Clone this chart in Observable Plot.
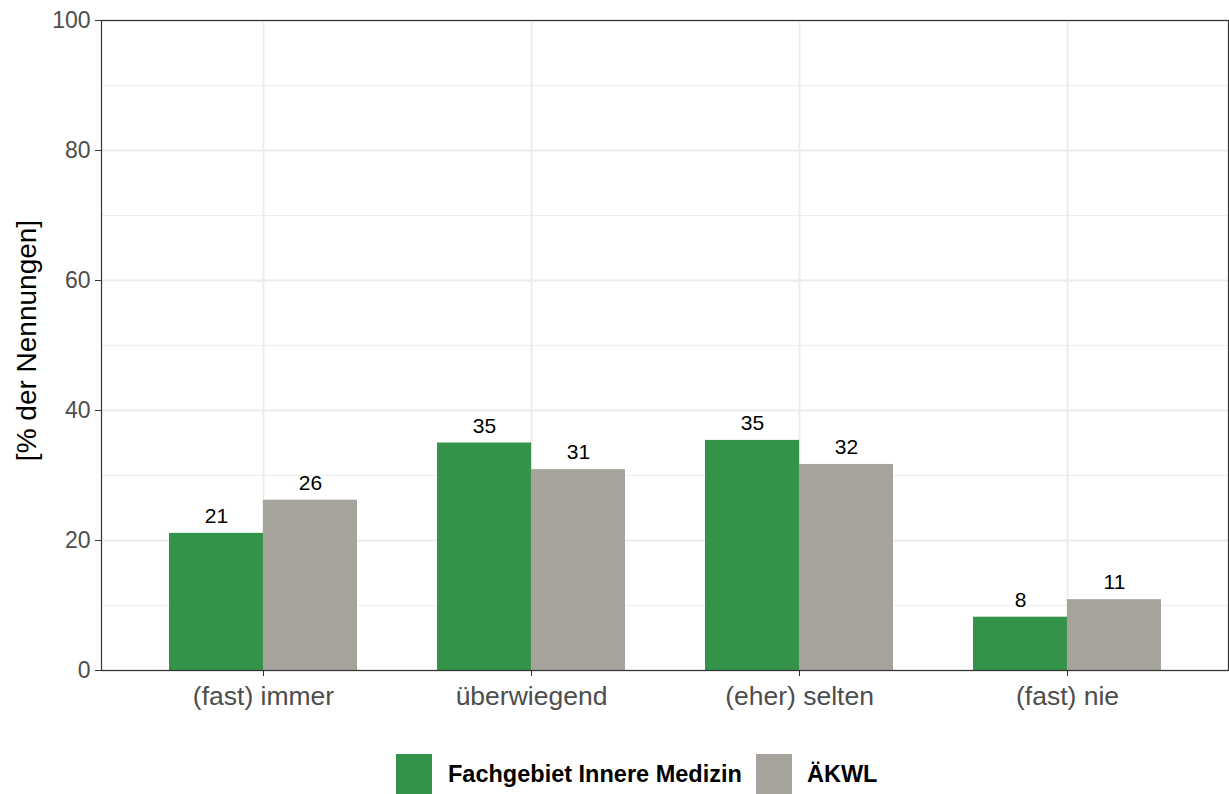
<!DOCTYPE html>
<html>
<head>
<meta charset="utf-8">
<script src="https://cdn.jsdelivr.net/npm/d3@7"></script>
<script src="https://cdn.jsdelivr.net/npm/@observablehq/plot@0.6"></script>
<style>
  body { margin: 0; background: #fff; font-family: "Liberation Sans", Arial, sans-serif; }
  #chart svg { display: block; }
  #chart [aria-label="y-axis tick"], #chart [aria-label="x-axis tick"] { stroke: #333333; }
  #legend { position: relative; height: 74px; }
  .key { position: absolute; top: 34px; width: 36px; height: 40px; }
  .lab { position: absolute; top: 41px; font-weight: bold; font-size: 23.5px; color: #000; line-height: 26px; white-space: nowrap; }
</style>
</head>
<body>
<div id="chart"></div>
<div id="legend"></div>
<script>
const categories = ["(fast) immer", "überwiegend", "(eher) selten", "(fast) nie"];
const groups = ["Fachgebiet Innere Medizin", "ÄKWL"];
const innereMedizin = [21.1, 35.0, 35.4, 8.2];
const aekwl = [26.2, 30.9, 31.7, 10.9];
const colors = ["#339348", "#a6a39c"];
const yTicks = [0, 20, 40, 60, 80, 100];
const yMinor = [10, 30, 50, 70, 90];

const data = [];
categories.forEach((c, i) => {
  data.push({cat: c, group: groups[0], value: innereMedizin[i]});
  data.push({cat: c, group: groups[1], value: aekwl[i]});
});

const W = 1229, H = 720, ML = 101, MR = 1, MT = 20, MB = 50;
const padIn = 0.3, padOut = 0.25;
const step = (W - ML - MR) / (categories.length - padIn + 2 * padOut);
const half = step * (1 - padIn) / 2;

const chart = Plot.plot({
  width: W, height: H,
  marginLeft: ML, marginRight: MR, marginTop: MT, marginBottom: MB,
  style: {fontFamily: '"Liberation Sans", Arial, sans-serif', background: "#fff"},
  x: {domain: categories, paddingInner: padIn, paddingOuter: padOut, label: null},
  y: {domain: [0, 100], label: null},
  color: {domain: groups, range: colors},
  marks: [
    Plot.ruleY(yMinor, {stroke: "#ebebeb", strokeWidth: 0.9}),
    Plot.ruleY(yTicks, {stroke: "#ebebeb", strokeWidth: 1.8}),
    Plot.ruleX(categories, {stroke: "#ebebeb", strokeWidth: 1.8}),
    Plot.barY(data.filter(d => d.group === groups[0]), {x: "cat", y: "value", fill: "group", insetRight: half}),
    Plot.barY(data.filter(d => d.group === groups[1]), {x: "cat", y: "value", fill: "group", insetLeft: half}),
    Plot.text(data.filter(d => d.group === groups[0]), {x: "cat", y: "value", text: d => String(Math.round(d.value)), dx: -half / 2, dy: -17, fontSize: 21, fill: "#000"}),
    Plot.text(data.filter(d => d.group === groups[1]), {x: "cat", y: "value", text: d => String(Math.round(d.value)), dx: half / 2, dy: -17, fontSize: 21, fill: "#000"}),
    Plot.frame({stroke: "#333333", strokeWidth: 1.2}),
    Plot.axisY({ticks: yTicks, tickSize: 6, tickPadding: 5, fontSize: 23, color: "#4d4d4d", label: null}),
    Plot.axisX({tickSize: 6, tickPadding: 10, fontSize: 26.5, color: "#4d4d4d", label: null}),
    Plot.text(["[% der Nennungen]"], {frameAnchor: "left", textAnchor: "middle", rotate: -90, dx: -74, dy: -5, fontSize: 28, fill: "#000"})
  ]
});
document.getElementById("chart").appendChild(chart);

const legend = document.getElementById("legend");
const keyX = [396, 756];
const labX = [448, 807];
groups.forEach((g, i) => {
  const k = document.createElement("div");
  k.className = "key"; k.style.left = keyX[i] + "px"; k.style.background = colors[i];
  legend.appendChild(k);
  const t = document.createElement("div");
  t.className = "lab"; t.style.left = labX[i] + "px"; t.textContent = g;
  legend.appendChild(t);
});
</script>
</body>
</html>
